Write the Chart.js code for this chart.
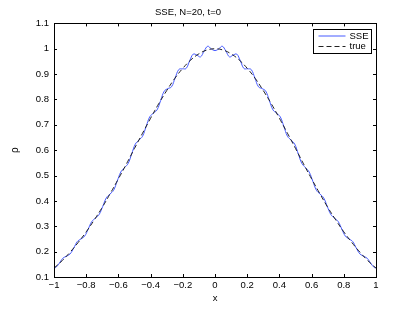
<!DOCTYPE html>
<html>
<head>
<meta charset="utf-8">
<script src="https://cdn.jsdelivr.net/npm/chart.js@4"></script>
<style>
html, body { margin: 0; padding: 0; background: #fff; }
</style>
</head>
<body>
<canvas id="chartSSE" width="415" height="313"></canvas>
<script>
// valores
const xSSE = [-1, -0.99, -0.9675, -0.945, -0.9225, -0.9, -0.8775, -0.855, -0.8325, -0.81, -0.7875, -0.765, -0.7425, -0.72, -0.6975, -0.675, -0.6525, -0.63, -0.6075, -0.585, -0.5625, -0.54, -0.5175, -0.495, -0.4725, -0.45, -0.4275, -0.405, -0.3825, -0.36, -0.3375, -0.315, -0.2925, -0.27, -0.2475, -0.225, -0.2025, -0.18, -0.1575, -0.135, -0.1125, -0.09, -0.0675, -0.045, -0.0225, 0, 0.0225, 0.045, 0.0675, 0.09, 0.1125, 0.135, 0.1575, 0.18, 0.2025, 0.225, 0.2475, 0.27, 0.2925, 0.315, 0.3375, 0.36, 0.3825, 0.405, 0.4275, 0.45, 0.4725, 0.495, 0.5175, 0.54, 0.5625, 0.585, 0.6075, 0.63, 0.6525, 0.675, 0.6975, 0.72, 0.7425, 0.765, 0.7875, 0.81, 0.8325, 0.855, 0.8775, 0.9, 0.9225, 0.945, 0.9675, 0.99, 1]
const ySSE = [0.137, 0.137, 0.154, 0.174, 0.182, 0.191, 0.214, 0.24, 0.25, 0.261, 0.289, 0.319, 0.332, 0.346, 0.378, 0.412, 0.427, 0.442, 0.478, 0.514, 0.531, 0.547, 0.585, 0.624, 0.64, 0.655, 0.694, 0.732, 0.746, 0.759, 0.796, 0.833, 0.843, 0.85, 0.885, 0.918, 0.921, 0.922, 0.952, 0.979, 0.975, 0.968, 0.991, 1.01, 0.999, 0.993, 0.999, 1.01, 0.991, 0.968, 0.975, 0.979, 0.952, 0.922, 0.921, 0.918, 0.885, 0.85, 0.843, 0.833, 0.796, 0.759, 0.746, 0.732, 0.694, 0.655, 0.64, 0.624, 0.585, 0.547, 0.531, 0.514, 0.478, 0.442, 0.427, 0.412, 0.378, 0.346, 0.332, 0.319, 0.289, 0.261, 0.25, 0.24, 0.214, 0.191, 0.182, 0.174, 0.154, 0.137, 0.137]
const xTrue = [-1, -0.95, -0.9, -0.85, -0.8, -0.75, -0.7, -0.65, -0.6, -0.55, -0.5, -0.45, -0.4, -0.35, -0.3, -0.25, -0.2, -0.15, -0.1, -0.05, 0, 0.05, 0.1, 0.15, 0.2, 0.25, 0.3, 0.35, 0.4, 0.45, 0.5, 0.55, 0.6, 0.65, 0.7, 0.75, 0.8, 0.85, 0.9, 0.95, 1]
const yTrue = [0.135, 0.164, 0.198, 0.236, 0.278, 0.325, 0.375, 0.43, 0.487, 0.546, 0.607, 0.667, 0.726, 0.783, 0.835, 0.883, 0.923, 0.956, 0.98, 0.995, 1, 0.995, 0.98, 0.956, 0.923, 0.883, 0.835, 0.783, 0.726, 0.667, 0.607, 0.546, 0.487, 0.43, 0.375, 0.325, 0.278, 0.236, 0.198, 0.164, 0.135]
const xTicks = [-1, -0.8, -0.6, -0.4, -0.2, 0, 0.2, 0.4, 0.6, 0.8, 1]
const xTickLabels = ['\u22121', '\u22120.8', '\u22120.6', '\u22120.4', '\u22120.2', '0', '0.2', '0.4', '0.6', '0.8', '1']
const yTicks = [0.1, 0.2, 0.3, 0.4, 0.5, 0.6, 0.7, 0.8, 0.9, 1, 1.1]
const yTickLabels = ['0.1', '0.2', '0.3', '0.4', '0.5', '0.6', '0.7', '0.8', '0.9', '1', '1.1']
const seriesNames = ['SSE', 'true']

const fam = '"Liberation Sans", Arial, sans-serif'
const fuente = { family: fam, size: 9.5 }
const azul = 'rgb(70, 90, 255)'

// marcas hacia adentro en los 4 lados + caja + leyenda
const marcos = {
  id: 'marcos',
  afterDraw (chart) {
    const c = chart.ctx
    const a = chart.chartArea
    const sx = chart.scales.x
    const sy = chart.scales.y
    c.save()
    c.strokeStyle = '#000'
    c.lineWidth = 1
    c.beginPath()
    xTicks.forEach(v => {
      const px = Math.round(sx.getPixelForValue(v)) + 0.5
      c.moveTo(px, a.bottom); c.lineTo(px, a.bottom - 3)
      c.moveTo(px, a.top); c.lineTo(px, a.top + 3)
    })
    yTicks.forEach(v => {
      const py = Math.round(sy.getPixelForValue(v)) + 0.5
      c.moveTo(a.left, py); c.lineTo(a.left + 3, py)
      c.moveTo(a.right, py); c.lineTo(a.right - 3, py)
    })
    c.stroke()
    c.strokeRect(Math.round(a.left) + 0.5, Math.round(a.top) + 0.5, Math.round(a.right - a.left), Math.round(a.bottom - a.top))

    const bx = Math.round(a.right - 63) + 0.5
    const by = Math.round(a.top + 6) + 0.5
    c.fillStyle = '#fff'
    c.fillRect(bx, by, 58, 24)
    c.strokeRect(bx, by, 58, 24)
    c.strokeStyle = azul
    c.beginPath(); c.moveTo(bx + 5, by + 6.5); c.lineTo(bx + 32, by + 6.5); c.stroke()
    c.strokeStyle = '#222'
    c.setLineDash([5, 3])
    c.beginPath(); c.moveTo(bx + 5, by + 17); c.lineTo(bx + 32, by + 17); c.stroke()
    c.setLineDash([])
    c.fillStyle = '#000'
    c.font = '9.5px ' + fam
    c.textBaseline = 'middle'
    c.fillText(seriesNames[0], bx + 36, by + 6.5)
    c.fillText(seriesNames[1], bx + 36, by + 17)
    c.restore()
  }
}

const ctx = document.getElementById('chartSSE')
new Chart(ctx, {
  type: 'line',
  data: {
    datasets: [{
      label: seriesNames[0],
      data: xSSE.map((x, i) => ({ x: x, y: ySSE[i] })),
      borderColor: azul,
      borderWidth: 1,
      pointRadius: 0,
      tension: 0.4,
      fill: false,
      order: 1
    }, {
      label: seriesNames[1],
      data: xTrue.map((x, i) => ({ x: x, y: yTrue[i] })),
      borderColor: '#222',
      borderWidth: 1,
      borderDash: [5, 3],
      pointRadius: 0,
      tension: 0.4,
      fill: false,
      order: 0
    }]
  },
  options: {
    responsive: false,
    animation: false,
    layout: { padding: { left: 0, right: 39, top: 0, bottom: 0 } },
    plugins: {
      legend: { display: false },
      tooltip: { enabled: false },
      title: {
        display: true,
        text: 'SSE, N=20, t=0',
        color: '#000',
        font: { family: fam, size: 9.5, weight: 'normal' },
        padding: { top: 7, bottom: 5 }
      }
    },
    scales: {
      x: {
        type: 'linear',
        min: -1,
        max: 1,
        afterBuildTicks: s => { s.ticks = xTicks.map(v => ({ value: v })) },
        afterFit: s => { s.height = 36 },
        grid: { display: false, drawTicks: false, tickLength: 0 },
        border: { display: false },
        ticks: { color: '#000', font: fuente, padding: 3, maxRotation: 0, autoSkip: false, callback: (v, i) => xTickLabels[i] },
        title: { display: true, text: 'x', color: '#000', font: fuente, padding: { top: 0, bottom: 9 } }
      },
      y: {
        type: 'linear',
        min: 0.1,
        max: 1.1,
        afterBuildTicks: s => { s.ticks = yTicks.map(v => ({ value: v })) },
        afterFit: s => { s.width = 54 },
        grid: { display: false, drawTicks: false, tickLength: 0 },
        border: { display: false },
        ticks: { color: '#000', font: fuente, padding: 5, autoSkip: false, callback: (v, i) => yTickLabels[i] },
        title: { display: true, text: 'ρ', color: '#000', font: { family: fam, size: 10 }, padding: { top: 9, bottom: 0 } }
      }
    }
  },
  plugins: [marcos]
})
</script>
</body>
</html>
